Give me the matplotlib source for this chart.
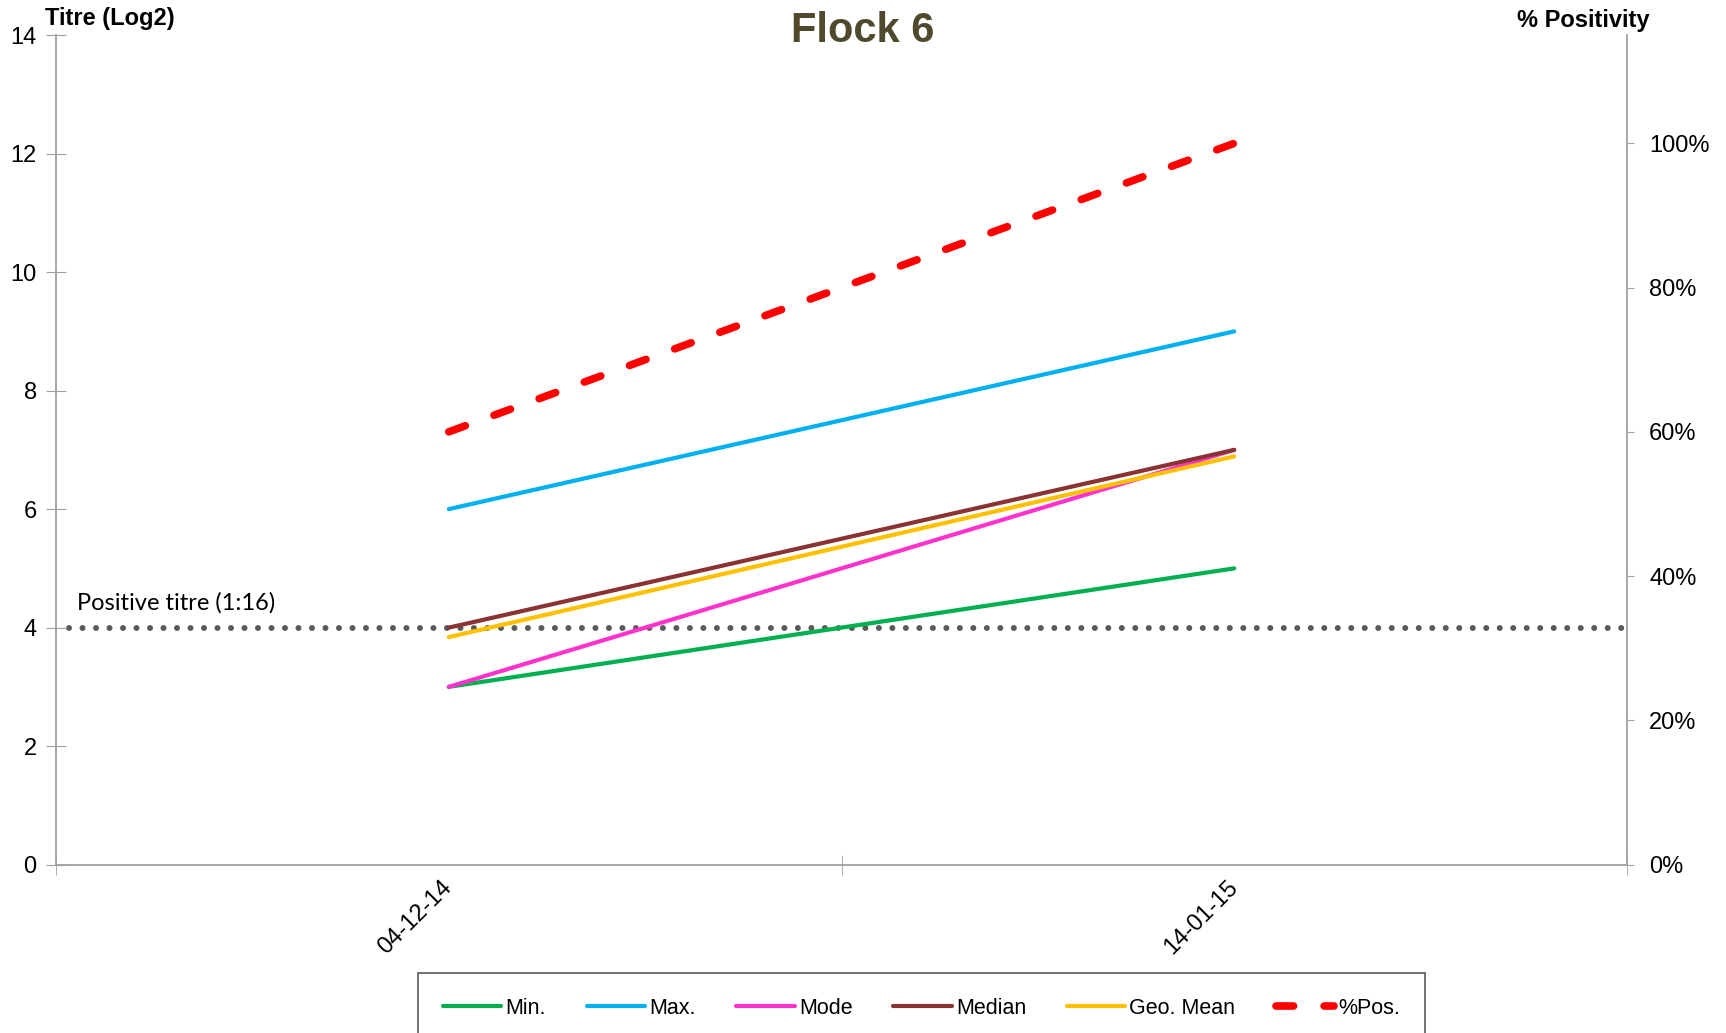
import matplotlib.pyplot as plt
from matplotlib.ticker import FuncFormatter

# dados
datas = ['04-12-14', '14-01-15']
titre_min = [3, 5]
titre_max = [6, 9]
titre_mode = [3, 7]
titre_median = [4, 7]
titre_geomean = [3.84, 6.89]
pct_pos = [0.60, 1.00]
limiar = 4

plt.rcParams['font.family'] = ['Liberation Sans', 'DejaVu Sans']

fig = plt.figure(figsize=(17.26, 10.33), dpi=100)
ax1 = fig.add_axes([0.0325, 0.163, 0.9101, 0.803])
ax2 = ax1.twinx()

x = list(range(len(datas)))
l1, = ax1.plot(x, titre_min, color='#00b050', lw=3, label='Min.', solid_capstyle='round')
l2, = ax1.plot(x, titre_max, color='#00b0f0', lw=3, label='Max.', solid_capstyle='round')
l3, = ax1.plot(x, titre_mode, color='#ff33cc', lw=3, label='Mode', solid_capstyle='round')
l5, = ax1.plot(x, titre_geomean, color='#ffc000', lw=3, label='Geo. Mean', solid_capstyle='round')
l4, = ax1.plot(x, titre_median, color='#8b3232', lw=3, label='Median', solid_capstyle='round')
l6, = ax2.plot(x, pct_pos, color='#ff0000', lw=5.5, ls=(0, (2.3, 4.0)),
               dash_capstyle='round', label='%Pos.')

# linha do titulo positivo
ax1.axhline(limiar, xmin=0.008, xmax=0.997, color='#5a5a5a', lw=4.3,
            ls=(0, (0.01, 2.25)), dash_capstyle='round', zorder=1)
ax1.text(-0.474, limiar + 0.23, 'Positive titre (1:16)', fontsize=17,
         family=['Lato', 'DejaVu Sans'], va='bottom', ha='left')

ax1.set_xlim(-0.5, 1.5)
ax1.set_ylim(0, 14)
ax1.set_yticks(range(0, 15, 2))
ax2.set_ylim(0, 1.15)
ax2.set_yticks([0, 0.2, 0.4, 0.6, 0.8, 1.0])
ax2.yaxis.set_major_formatter(FuncFormatter(lambda v, p: '%d%%' % round(v * 100)))

ax1.set_xticks(x)
ax1.set_xticklabels(datas, rotation=45, ha='right', va='center', rotation_mode='anchor')
ax1.set_xticks([-0.5, 0.5, 1.5], minor=True)
ax1.tick_params(axis='x', which='major', length=0, pad=14, labelsize=17)
ax1.tick_params(axis='x', which='minor', direction='inout', length=14, color='#a0a0a0')
ax1.tick_params(axis='y', direction='inout', length=14, pad=7, labelsize=17, color='#a0a0a0')
ax2.tick_params(axis='y', direction='out', length=5, pad=11, labelsize=17, color='#a0a0a0')

for ax in (ax1, ax2):
    ax.spines['top'].set_visible(False)
    for s in ('left', 'right', 'bottom'):
        ax.spines[s].set_color('#a0a0a0')
        ax.spines[s].set_linewidth(1.3)
ax1.spines['right'].set_visible(False)
ax2.spines['left'].set_visible(False)
ax2.spines['bottom'].set_visible(False)

fig.text(0.5, 0.970, 'Flock 6', fontsize=30, fontweight='bold', color='#4f4a2e',
         ha='center', va='center')
fig.text(0.026, 0.982, 'Titre (Log2)', fontsize=17, fontweight='bold', ha='left', va='center')
fig.text(0.879, 0.980, '% Positivity', fontsize=17, fontweight='bold', ha='left', va='center')

leg = fig.legend(handles=[l1, l2, l3, l4, l5, l6], loc='upper center', ncol=6,
                 bbox_to_anchor=(0.534, 0.058), borderaxespad=0, fontsize=15.5,
                 frameon=True, fancybox=False, edgecolor='#404040', handlelength=2.7,
                 handletextpad=0.2, columnspacing=1.9, borderpad=1.15)
leg.get_frame().set_linewidth(1.3)

fig.savefig('out.png', dpi=100)
